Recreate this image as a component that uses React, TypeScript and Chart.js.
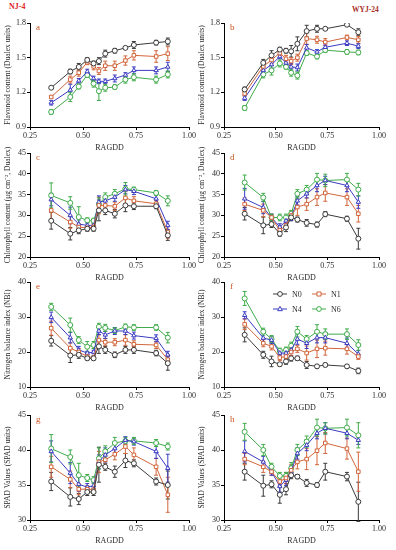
import React, { useEffect, useRef } from "react";
import { Chart, registerables } from "chart.js";
Chart.register(...registerables);

// ---------- data ----------
const RAGDD = [0.35, 0.44, 0.48, 0.52, 0.55, 0.575, 0.605, 0.65, 0.7, 0.74, 0.845, 0.9];
const SERIES = ["N0", "N1", "N4", "N6"];
const COLORS = ["#3a3a3a", "#d2663c", "#3b3bc2", "#3fab4a"];
const MARKERS = ["circle", "rect", "triangle", "circle"];

const X_TICKS = [0.25, 0.5, 0.75, 1.0];

// a: NJ-4 flavonoid
const A_N0 = [1.24, 1.38, 1.42, 1.48, 1.45, 1.47, 1.535, 1.56, 1.585, 1.61, 1.63, 1.64];
const A_N1 = [1.16, 1.31, 1.37, 1.46, 1.425, 1.385, 1.43, 1.43, 1.475, 1.52, 1.51, 1.535];
const A_N4 = [1.11, 1.22, 1.3, 1.38, 1.32, 1.295, 1.295, 1.32, 1.35, 1.39, 1.39, 1.42];
const A_N6 = [1.03, 1.16, 1.25, 1.35, 1.275, 1.21, 1.24, 1.245, 1.31, 1.33, 1.31, 1.355];
const A_N0_E = [0.01, 0.02, 0.03, 0.02, 0.02, 0.03, 0.03, 0.02, 0.01, 0.03, 0.02, 0.03];
const A_N1_E = [0.01, 0.03, 0.03, 0.02, 0.03, 0.03, 0.04, 0.04, 0.04, 0.04, 0.05, 0.06];
const A_N4_E = [0.02, 0.05, 0.02, 0.02, 0.02, 0.02, 0.02, 0.03, 0.02, 0.03, 0.03, 0.04];
const A_N6_E = [0.02, 0.04, 0.02, 0.02, 0.03, 0.08, 0.03, 0.02, 0.03, 0.03, 0.03, 0.03];

// b: WYJ-24 flavonoid
const B_N0 = [1.225, 1.455, 1.52, 1.57, 1.56, 1.555, 1.62, 1.73, 1.75, 1.75, 1.785, 1.72];
const B_N1 = [1.19, 1.425, 1.48, 1.54, 1.49, 1.47, 1.5, 1.665, 1.655, 1.635, 1.675, 1.655];
const B_N4 = [1.15, 1.39, 1.44, 1.51, 1.455, 1.42, 1.415, 1.585, 1.55, 1.59, 1.625, 1.6];
const B_N6 = [1.065, 1.355, 1.39, 1.45, 1.42, 1.37, 1.345, 1.54, 1.51, 1.565, 1.55, 1.545];
const B_N0_E = [0.02, 0.03, 0.04, 0.02, 0.02, 0.05, 0.06, 0.05, 0.03, 0.01, 0.01, 0.03];
const B_N1_E = [0.02, 0.03, 0.03, 0.02, 0.03, 0.03, 0.03, 0.05, 0.03, 0.03, 0.02, 0.03];
const B_N4_E = [0.02, 0.03, 0.03, 0.02, 0.02, 0.03, 0.03, 0.03, 0.02, 0.02, 0.02, 0.02];
const B_N6_E = [0.02, 0.03, 0.04, 0.03, 0.02, 0.03, 0.03, 0.02, 0.02, 0.02, 0.02, 0.02];

// c: NJ-4 chlorophyll
const C_N0 = [28.7, 25.6, 26.4, 26.8, 26.8, 31.2, 31.2, 30.4, 32.4, 32.2, 32.2, 25.2];
const C_N1 = [31.2, 28.4, 27.2, 27.0, 27.2, 32.4, 32.4, 32.2, 34.2, 33.5, 32.8, 26.0];
const C_N4 = [33.8, 30.0, 27.9, 27.6, 27.6, 33.2, 33.5, 34.4, 36.2, 35.8, 34.0, 27.6];
const C_N6 = [34.8, 33.0, 29.6, 28.8, 28.7, 32.7, 34.4, 35.2, 36.4, 36.2, 35.4, 33.5];
const C_N0_E = [2.0, 1.5, 0.8, 0.6, 0.6, 2.5, 1.0, 1.0, 1.5, 0.8, 0.6, 1.2];
const C_N1_E = [2.5, 1.5, 0.8, 0.6, 0.6, 2.0, 1.0, 1.0, 1.5, 1.0, 0.8, 1.5];
const C_N4_E = [1.5, 2.0, 1.0, 0.6, 0.6, 1.5, 1.0, 1.0, 1.0, 0.8, 1.0, 1.0];
const C_N6_E = [3.0, 1.5, 2.5, 0.6, 0.6, 1.5, 1.0, 1.0, 1.5, 0.6, 0.6, 1.2];

// d: WYJ-24 chlorophyll
const D_N0 = [30.4, 27.6, 27.9, 25.6, 27.1, 29.5, 29.0, 28.2, 27.8, 30.3, 29.2, 24.4];
const D_N1 = [32.7, 31.2, 29.5, 26.4, 27.6, 30.0, 32.0, 32.7, 34.4, 35.4, 34.4, 30.4];
const D_N4 = [34.0, 31.9, 29.5, 27.2, 28.7, 29.6, 33.5, 35.2, 37.2, 38.4, 37.2, 33.2];
const D_N6 = [37.9, 34.3, 29.5, 29.5, 29.5, 30.4, 35.2, 36.2, 38.6, 38.4, 38.6, 36.2];
const D_N0_E = [1.5, 2.0, 0.8, 0.6, 1.0, 0.8, 0.6, 0.8, 0.6, 0.6, 0.6, 2.5];
const D_N1_E = [1.5, 1.5, 0.8, 1.0, 1.0, 0.8, 2.0, 1.5, 2.0, 2.0, 2.0, 2.0];
const D_N4_E = [2.5, 1.5, 0.8, 0.8, 1.0, 0.8, 1.0, 1.0, 1.5, 1.0, 1.5, 1.5];
const D_N6_E = [1.8, 1.0, 0.8, 0.8, 0.8, 0.8, 1.0, 1.0, 1.5, 1.5, 1.5, 1.5];

// e: NJ-4 NBI
const E_N0 = [23.2, 19.0, 19.2, 18.2, 18.2, 21.6, 20.6, 19.2, 20.6, 20.6, 19.7, 16.8];
const E_N1 = [26.8, 21.1, 20.0, 18.7, 18.4, 23.4, 22.8, 22.8, 23.4, 22.2, 22.0, 17.8];
const E_N4 = [29.9, 24.1, 20.6, 19.7, 20.0, 26.0, 24.9, 26.0, 26.0, 24.7, 23.9, 19.2];
const E_N6 = [32.9, 27.7, 23.4, 21.5, 22.0, 27.2, 26.9, 26.1, 27.2, 27.0, 27.0, 24.1];
const E_N0_E = [1.5, 2.0, 1.0, 0.5, 0.5, 2.0, 1.0, 0.8, 1.0, 1.0, 0.8, 2.0];
const E_N1_E = [2.0, 1.5, 1.0, 0.5, 0.5, 1.5, 1.0, 1.0, 1.5, 1.0, 1.0, 1.5];
const E_N4_E = [1.5, 1.5, 1.0, 0.5, 0.5, 1.0, 1.0, 1.0, 1.0, 1.0, 1.0, 1.0];
const E_N6_E = [1.0, 2.0, 1.0, 1.5, 1.0, 1.0, 1.0, 0.8, 0.8, 0.8, 0.8, 1.5];

// f: WYJ-24 NBI
const F_N0 = [24.9, 19.2, 17.3, 16.5, 17.3, 18.2, 18.2, 16.3, 15.9, 16.3, 15.9, 14.6];
const F_N1 = [27.9, 22.5, 21.6, 18.4, 18.7, 20.0, 20.9, 19.7, 20.9, 21.1, 20.9, 18.7];
const F_N4 = [30.5, 24.0, 23.4, 19.7, 19.7, 20.6, 23.7, 22.5, 24.1, 24.1, 22.5, 19.4];
const F_N6 = [35.3, 25.8, 23.7, 20.3, 20.6, 21.8, 25.8, 23.7, 25.8, 25.1, 25.1, 22.0];
const F_N0_E = [2.0, 1.0, 1.5, 0.5, 0.8, 0.8, 0.6, 1.0, 0.5, 0.5, 0.5, 0.8];
const F_N1_E = [1.5, 1.0, 1.0, 0.8, 0.8, 1.0, 1.0, 2.0, 2.5, 2.0, 1.5, 0.8];
const F_N4_E = [1.0, 1.5, 1.0, 0.8, 0.8, 1.0, 1.5, 1.5, 1.5, 1.5, 1.5, 1.0];
const F_N6_E = [2.0, 1.0, 1.0, 0.8, 0.8, 1.0, 1.5, 1.0, 2.0, 1.5, 1.5, 1.5];

// g: NJ-4 SPAD
const G_N0 = [35.5, 33.3, 33.0, 34.0, 34.0, 37.9, 37.6, 36.9, 38.5, 38.1, 35.5, 35.0];
const G_N1 = [37.6, 35.8, 34.4, 34.4, 34.3, 38.3, 38.6, 39.4, 40.5, 39.3, 37.6, 33.6];
const G_N4 = [39.8, 36.7, 35.1, 34.7, 34.9, 38.3, 39.3, 40.2, 41.4, 41.2, 39.8, 37.4];
const G_N6 = [40.2, 39.0, 36.4, 36.0, 35.7, 38.8, 39.8, 41.0, 41.3, 41.3, 41.0, 40.5];
const G_N0_E = [1.3, 1.3, 0.8, 0.5, 0.5, 2.5, 0.5, 0.8, 1.0, 0.5, 0.5, 2.0];
const G_N1_E = [1.5, 1.2, 0.8, 0.5, 0.5, 1.5, 0.8, 0.8, 1.0, 1.0, 1.2, 2.5];
const G_N4_E = [1.5, 1.5, 1.0, 0.5, 0.5, 1.0, 1.0, 1.0, 0.5, 0.5, 1.0, 2.0];
const G_N6_E = [2.0, 1.0, 1.7, 0.5, 0.5, 1.5, 0.8, 0.8, 0.5, 0.5, 0.5, 0.5];

// h: WYJ-24 SPAD
const H_N0 = [36.9, 34.9, 35.1, 33.6, 34.4, 36.4, 36.2, 35.3, 35.0, 36.9, 36.2, 32.6];
const H_N1 = [38.7, 37.6, 36.9, 35.5, 36.0, 37.1, 38.3, 38.7, 39.9, 41.0, 40.2, 36.9];
const H_N4 = [39.8, 38.3, 36.9, 34.8, 35.7, 36.9, 39.5, 40.7, 42.4, 43.1, 42.4, 41.4];
const H_N6 = [42.6, 40.0, 37.6, 36.3, 36.3, 37.4, 40.0, 41.2, 43.2, 43.1, 43.2, 42.1];
const H_N0_E = [1.2, 1.5, 0.5, 1.2, 0.8, 0.5, 0.3, 0.5, 0.3, 1.2, 0.6, 2.8];
const H_N1_E = [0.8, 0.8, 0.5, 0.5, 0.8, 0.8, 1.0, 1.5, 2.0, 1.5, 1.5, 2.8];
const H_N4_E = [1.5, 0.8, 0.5, 0.8, 0.8, 0.8, 0.8, 0.8, 0.8, 0.8, 0.8, 0.6];
const H_N6_E = [1.2, 0.8, 0.5, 0.5, 0.5, 0.8, 0.8, 0.8, 1.2, 0.8, 1.2, 1.8];

const TITLE_FLAV = "Flavonoid content (Dualex units)";
const TITLE_CHL = "Chlorophyll content (μg cm⁻², Dualex)";
const TITLE_NBI = "Nitrogen balance index (NBI)";
const TITLE_SPAD = "SPAD Values (SPAD units)";

const Y_FLAV = [0.9, 1.8, 0.3, 1];
const Y_CHL = [20, 45, 5, 0];
const Y_NBI = [10, 40, 10, 0];
const Y_SPAD = [30, 45, 5, 0];

// ---------- layout ----------
type PanelDef = {
  letter: string;
  col: number;
  plotTop: number;
  plotH: number;
  title: string;
  y: number[];
  values: number[][];
  errors: number[][];
  legend?: boolean;
};

const PANELS: PanelDef[] = [
  { letter: "a", col: 0, plotTop: 23, plotH: 104, title: TITLE_FLAV, y: Y_FLAV, values: [A_N0, A_N1, A_N4, A_N6], errors: [A_N0_E, A_N1_E, A_N4_E, A_N6_E] },
  { letter: "b", col: 1, plotTop: 23, plotH: 104, title: TITLE_FLAV, y: Y_FLAV, values: [B_N0, B_N1, B_N4, B_N6], errors: [B_N0_E, B_N1_E, B_N4_E, B_N6_E] },
  { letter: "c", col: 0, plotTop: 153, plotH: 104, title: TITLE_CHL, y: Y_CHL, values: [C_N0, C_N1, C_N4, C_N6], errors: [C_N0_E, C_N1_E, C_N4_E, C_N6_E] },
  { letter: "d", col: 1, plotTop: 153, plotH: 104, title: TITLE_CHL, y: Y_CHL, values: [D_N0, D_N1, D_N4, D_N6], errors: [D_N0_E, D_N1_E, D_N4_E, D_N6_E] },
  { letter: "e", col: 0, plotTop: 282, plotH: 105, title: TITLE_NBI, y: Y_NBI, values: [E_N0, E_N1, E_N4, E_N6], errors: [E_N0_E, E_N1_E, E_N4_E, E_N6_E] },
  { letter: "f", col: 1, plotTop: 282, plotH: 105, title: TITLE_NBI, y: Y_NBI, values: [F_N0, F_N1, F_N4, F_N6], errors: [F_N0_E, F_N1_E, F_N4_E, F_N6_E], legend: true },
  { letter: "g", col: 0, plotTop: 415, plotH: 105, title: TITLE_SPAD, y: Y_SPAD, values: [G_N0, G_N1, G_N4, G_N6], errors: [G_N0_E, G_N1_E, G_N4_E, G_N6_E] },
  { letter: "h", col: 1, plotTop: 415, plotH: 105, title: TITLE_SPAD, y: Y_SPAD, values: [H_N0, H_N1, H_N4, H_N6], errors: [H_N0_E, H_N1_E, H_N4_E, H_N6_E] },
];

const FONT = "'Liberation Serif', 'Times New Roman', serif";
const TEXT = "#2a2a2a";
const PAD_TOP = 10;
const X_AXIS_H = 27;

function drawMarker(ctx: CanvasRenderingContext2D, style: string, x: number, y: number, r: number, color: string) {
  ctx.save();
  ctx.strokeStyle = color;
  ctx.fillStyle = "#ffffff";
  ctx.lineWidth = 1;
  ctx.beginPath();
  if (style === "rect") {
    ctx.rect(x - r * 0.85, y - r * 0.85, r * 1.7, r * 1.7);
  } else if (style === "triangle") {
    ctx.moveTo(x, y - r * 1.1);
    ctx.lineTo(x + r, y + r * 0.7);
    ctx.lineTo(x - r, y + r * 0.7);
    ctx.closePath();
  } else {
    ctx.arc(x, y, r, 0, Math.PI * 2);
  }
  ctx.fill();
  ctx.stroke();
  ctx.restore();
}

function Panel({ p }: { p: PanelDef }) {
  const ref = useRef<HTMLCanvasElement | null>(null);
  const width = p.col === 0 ? 196 : 200;
  const height = PAD_TOP + p.plotH + X_AXIS_H;
  const left = p.col === 0 ? 0 : 196;
  const top = p.plotTop - PAD_TOP;
  const yW = p.col === 0 ? 30 : 28;
  const padR = p.col === 0 ? 7 : 17;

  useEffect(() => {
    if (!ref.current) return;
    const [yMin, yMax, yStep, dec] = p.y;
    const errorPlugin = {
      id: "errbars" + p.letter,
      beforeDatasetsDraw(chart: any) {
        const ctx = chart.ctx;
        const ys = chart.scales.y;
        chart.data.datasets.forEach((ds: any, i: number) => {
          const meta = chart.getDatasetMeta(i);
          const errs = p.errors[i];
          ctx.save();
          ctx.strokeStyle = COLORS[i];
          ctx.lineWidth = 1;
          meta.data.forEach((pt: any, j: number) => {
            const v = p.values[i][j];
            const e = errs[j];
            const y1 = ys.getPixelForValue(v + e);
            const y2 = ys.getPixelForValue(v - e);
            const x = pt.x;
            ctx.beginPath();
            ctx.moveTo(x, y1);
            ctx.lineTo(x, y2);
            ctx.moveTo(x - 2, y1);
            ctx.lineTo(x + 2, y1);
            ctx.moveTo(x - 2, y2);
            ctx.lineTo(x + 2, y2);
            ctx.stroke();
          });
          ctx.restore();
        });
      },
    };
    const labelPlugin = {
      id: "letter" + p.letter,
      afterDraw(chart: any) {
        const ctx = chart.ctx;
        const ca = chart.chartArea;
        ctx.save();
        ctx.fillStyle = "#c8541e";
        ctx.font = `9px ${FONT}`;
        ctx.textBaseline = "middle";
        ctx.textAlign = "left";
        ctx.fillText(p.letter, ca.left + 6, ca.top + 5);
        if (p.legend) {
          ctx.font = `8px ${FONT}`;
          const rows = [
            [0, 49, 12],
            [1, 88, 12],
            [2, 49, 27],
            [3, 88, 27],
          ];
          rows.forEach(([i, dx, dy]) => {
            const x0 = ca.left + dx;
            const yy = ca.top + dy;
            ctx.strokeStyle = COLORS[i];
            ctx.lineWidth = 1;
            ctx.beginPath();
            ctx.moveTo(x0, yy);
            ctx.lineTo(x0 + 14, yy);
            ctx.stroke();
            drawMarker(ctx, MARKERS[i], x0 + 7, yy, 2.4, COLORS[i]);
            ctx.fillStyle = TEXT;
            ctx.fillText(SERIES[i], x0 + 19, yy + 0.5);
          });
        }
        ctx.restore();
      },
    };

    const chart = new Chart(ref.current, {
      type: "line",
      data: {
        datasets: SERIES.map((name, i) => ({
          label: name,
          data: RAGDD.map((x, j) => ({ x, y: p.values[i][j] })),
          borderColor: COLORS[i],
          backgroundColor: "#ffffff",
          pointBorderColor: COLORS[i],
          pointBackgroundColor: "#ffffff",
          pointStyle: MARKERS[i] as any,
          pointRadius: 2.5,
          pointBorderWidth: 1,
          borderWidth: 1,
          tension: 0,
          fill: false,
        })),
      },
      options: {
        responsive: false,
        animation: false,
        devicePixelRatio: 1,
        events: [],
        layout: { padding: { top: PAD_TOP, right: padR, left: 0, bottom: 0 } },
        plugins: { legend: { display: false }, tooltip: { enabled: false } },
        scales: {
          x: {
            type: "linear",
            min: 0.25,
            max: 1.0,
            afterBuildTicks: (s: any) => {
              s.ticks = X_TICKS.map((v) => ({ value: v }));
            },
            ticks: {
              callback: (v: any) => Number(v).toFixed(2),
              font: { family: FONT, size: 8 },
              color: TEXT,
              padding: 1,
              maxRotation: 0,
              autoSkip: false,
            },
            grid: { display: true, drawOnChartArea: false, drawTicks: true, tickLength: 3, color: "#000" },
            border: { display: true, color: "#000", width: 1 },
            title: { display: true, text: "RAGDD", font: { family: FONT, size: 8 }, color: TEXT, padding: { top: 2, bottom: 1 } },
            afterFit: (s: any) => {
              s.height = X_AXIS_H;
              s.paddingLeft = 0;
              s.paddingRight = 0;
            },
          },
          y: {
            type: "linear",
            min: yMin,
            max: yMax,
            ticks: {
              stepSize: yStep,
              callback: (v: any) => Number(v).toFixed(dec),
              font: { family: FONT, size: 8 },
              color: TEXT,
              padding: 1,
            },
            grid: { display: true, drawOnChartArea: false, drawTicks: true, tickLength: 3, color: "#000" },
            border: { display: true, color: "#000", width: 1 },
            title: {
              display: true,
              text: p.title,
              font: { family: FONT, size: 7.5 },
              color: TEXT,
              padding: { top: p.col === 0 ? 3.5 : 1.5, bottom: 0 },
            },
            afterFit: (s: any) => {
              s.width = yW;
              s.paddingTop = 0;
              s.paddingBottom = 0;
            },
          },
        },
      } as any,
      plugins: [errorPlugin, labelPlugin],
    });
    return () => chart.destroy();
  }, []);

  return (
    <canvas
      ref={ref}
      width={width}
      height={height}
      style={{ position: "absolute", left, top, width, height }}
    />
  );
}

export default function App() {
  return (
    <div
      style={{
        position: "fixed",
        left: 0,
        top: 0,
        width: 396,
        height: 550,
        background: "#ffffff",
        overflow: "hidden",
        fontFamily: FONT,
      }}
    >
      <div style={{ position: "absolute", left: 9, top: 2, fontSize: 8, fontWeight: "bold", color: "#e3262a" }}>NJ-4</div>
      <div style={{ position: "absolute", left: 352, top: 5, fontSize: 7.5, fontWeight: "bold", color: "#a8302a" }}>WYJ-24</div>
      {PANELS.map((p) => (
        <Panel key={p.letter} p={p} />
      ))}
    </div>
  );
}
